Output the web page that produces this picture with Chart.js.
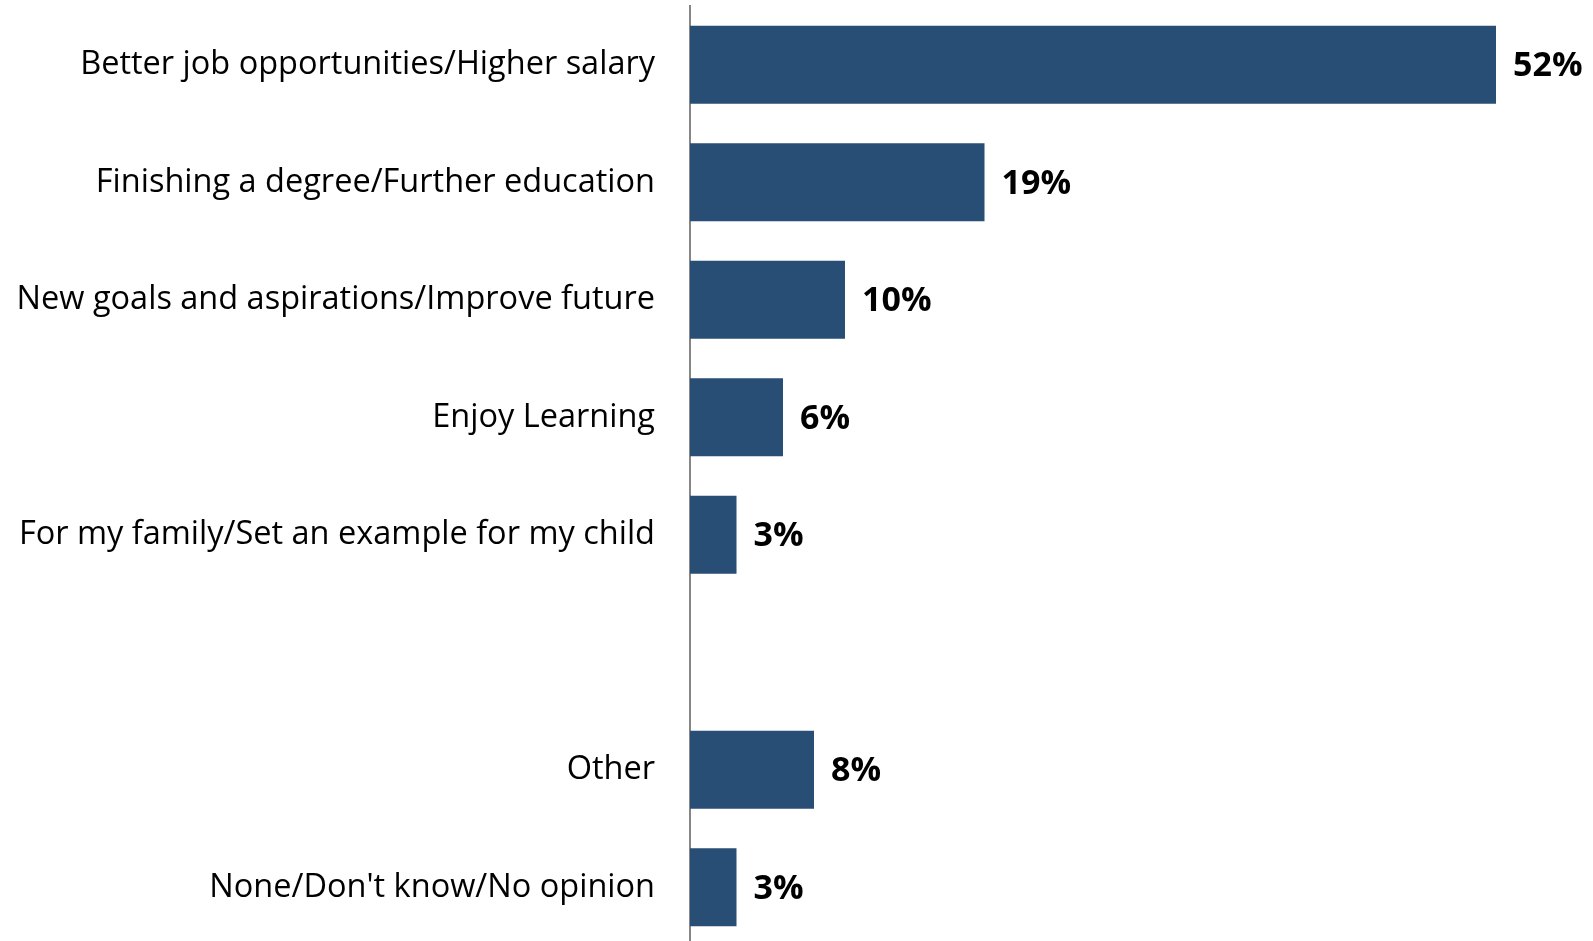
<!DOCTYPE html>
<html>
<head>
<meta charset="utf-8">
<script src="https://cdn.jsdelivr.net/npm/chart.js@4.4.0/dist/chart.umd.min.js"></script>
<style>
  html, body { margin: 0; padding: 0; background: #fff; overflow: hidden; }
  #reasonsChart { display: block; }
</style>
</head>
<body>
<canvas id="reasonsChart" width="1593" height="946"></canvas>
<script>
// Reasons given, in display order (empty slot separates the last two)
const reasons = [
    'Better job opportunities/Higher salary',
    'Finishing a degree/Further education',
    'New goals and aspirations/Improve future',
    'Enjoy Learning',
    'For my family/Set an example for my child',
    '',
    'Other',
    "None/Don't know/No opinion"
];
const shares = [52, 19, 10, 6, 3, null, 8, 3];

const barColor = '#294e75';
const labelFont = '"Open Sans", Lato, sans-serif';

// Writes the percentage just past the end of each bar
const valueLabels = {
    id: 'valueLabels',
    afterDatasetsDraw(chart) {
        const c = chart.ctx;
        const meta = chart.getDatasetMeta(0);
        c.save();
        c.font = 'bold 34px ' + labelFont;
        c.fillStyle = '#000';
        c.textAlign = 'left';
        c.textBaseline = 'middle';
        meta.data.forEach((bar, i) => {
            if (shares[i] == null) return;
            c.fillText(shares[i] + '%', bar.x + 17, bar.y + 2);
        });
        c.restore();
    }
};

const ctx = document.getElementById('reasonsChart').getContext('2d');

let chart = new Chart(ctx, {
    type: 'bar',
    data: {
        labels: reasons,
        datasets: [{
            data: shares,
            backgroundColor: barColor,
            borderWidth: 0,
            categoryPercentage: 0.665,
            barPercentage: 1
        }]
    },
    options: {
        indexAxis: 'y',
        responsive: false,
        animation: false,
        devicePixelRatio: 1,
        layout: { padding: { top: 6, right: 4, bottom: 0, left: 0 } },
        plugins: {
            legend: { display: false },
            tooltip: { enabled: false }
        },
        scales: {
            x: {
                display: false,
                min: 0,
                max: 58
            },
            y: {
                grid: { display: false },
                border: { display: true, color: '#868686', width: 2 },
                ticks: {
                    color: '#000',
                    padding: 27,
                    font: { family: labelFont, size: 32.5 }
                },
                afterFit(scale) {
                    // fixed label column, and no extra room above/below the bars
                    scale.width = 690;
                    scale.paddingTop = 0;
                    scale.paddingBottom = 0;
                }
            }
        }
    },
    plugins: [valueLabels]
});
</script>
</body>
</html>
